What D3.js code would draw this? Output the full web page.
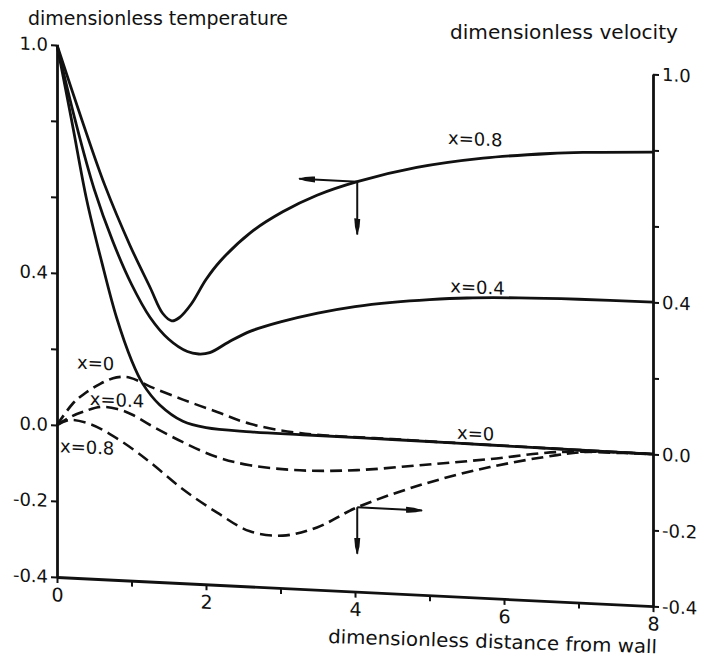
<!DOCTYPE html>
<html>
<head>
<meta charset="utf-8">
<script src="https://cdn.jsdelivr.net/npm/d3@7"></script>
<style>
body { margin: 0; background: #fff; }
text { font-family: "DejaVu Sans", sans-serif; fill: #111; }
</style>
</head>
<body>
<svg></svg>
<script>
// temperature profiles (solid), [distance, value]
const temp0 = [[0,1.0],[0.2,0.80],[0.4,0.595],[0.6,0.435],[0.8,0.29],[1.0,0.18],[1.15,0.12],[1.38,0.066],[1.69,0.026],[2.0,0.012],[2.6,0.007],[3.3,0.006],[4.5,0.005],[5.8,0.003],[7.1,0.001],[8,0]];
const temp04 = [[0,1.0],[0.25,0.80],[0.5,0.625],[0.75,0.49],[1.0,0.38],[1.25,0.295],[1.5,0.24],[1.75,0.21],[1.9,0.205],[2.05,0.21],[2.3,0.24],[2.6,0.272],[3.0,0.30],[3.5,0.328],[4.0,0.35],[4.5,0.366],[5.0,0.378],[5.5,0.387],[6.2,0.394],[7.0,0.398],[8,0.40]];
const temp08 = [[0,1.0],[0.336,0.805],[0.64,0.638],[0.98,0.482],[1.25,0.374],[1.42,0.307],[1.54,0.289],[1.64,0.298],[1.8,0.335],[2.0,0.402],[2.19,0.452],[2.59,0.53],[3.03,0.59],[3.49,0.638],[4.03,0.679],[4.83,0.724],[5.72,0.757],[6.62,0.778],[7.06,0.785],[8,0.795]];

// velocity profiles (dashed)
const vel0 = [[0,0],[0.21,0.058],[0.35,0.083],[0.58,0.114],[0.8,0.133],[0.98,0.134],[1.25,0.113],[1.69,0.083],[2.15,0.055],[2.59,0.028],[3.26,0.01],[4.5,0.006],[6,0.003],[8,0]];
const vel04 = [[0,0],[0.2,0.025],[0.35,0.038],[0.58,0.053],[0.81,0.05],[1.02,0.036],[1.25,0.012],[1.69,-0.029],[2.15,-0.064],[2.59,-0.081],[3.26,-0.088],[4.03,-0.08],[4.91,-0.058],[5.81,-0.034],[6.71,-0.007],[7.6,-0.001],[8,0]];
const vel08 = [[0,0],[0.17,0.015],[0.44,0.007],[0.71,-0.017],[1.02,-0.054],[1.25,-0.086],[1.69,-0.153],[2.15,-0.21],[2.59,-0.255],[3.03,-0.262],[3.49,-0.236],[4.03,-0.178],[4.91,-0.109],[5.81,-0.055],[6.71,-0.015],[7.15,-0.002],[8,0]];

const distTicks = [0,1,2,3,4,5,6,7,8];
const distLabels = [0,2,4,6,8];
const valueTicks = [-0.4,-0.2,0,0.2,0.4,0.6,0.8,1.0];
const valueLabels = [1.0,0.4,0,-0.2,-0.4];

// curve labels [distance, value, text]
const curveLabels = [[5.25,0.79,"x=0.8"],[5.28,0.40,"x=0.4"],[5.37,0.015,"x=0"],
                     [0.27,0.151,"x=0"],[0.44,0.057,"x=0.4"],[0.04,-0.071,"x=0.8"]];
// arrows [fromX, fromY, toX, toY]
const arrows = [[4.03,0.679,3.25,0.679],[4.03,0.679,4.03,0.54],
                [4.03,-0.178,4.9,-0.178],[4.03,-0.178,4.03,-0.30]];

let width = 702;
let height = 660;
let svg = d3.select("svg")
            .attr("width", width)
            .attr("height", height);

svg.append("defs").append("marker")
    .attr("id", "head")
    .attr("viewBox", "0 -3.5 17 7")
    .attr("refX", 16)
    .attr("refY", 0)
    .attr("markerWidth", 17)
    .attr("markerHeight", 7)
    .attr("markerUnits", "userSpaceOnUse")
    .attr("orient", "auto")
    .append("path")
    .attr("d", "M0,-3Q9,-3 17,0Q9,3 0,3Z")
    .attr("fill", "#111");

let x = d3.scaleLinear().domain([0, 8]).range([57, 653]);
let y = d3.scaleLinear().domain([-0.4, 1.0]).range([577, 45]);

// scanned figure is slightly sheared
let plot = svg.append("g")
    .attr("transform", "translate(57,0) skewY(2.8) translate(-57,0)");

let fmt = d => valueLabels.includes(d) ? (d < 0 ? "-" : "") + Math.abs(d).toFixed(1) : "";

function styleAxis(g) {
    g.attr("font-size", 18).attr("font-family", null);
    g.select(".domain").attr("stroke", "#111").attr("stroke-width", 2.8);
    g.selectAll(".tick line").attr("stroke", "#111").attr("stroke-width", 2);
    g.selectAll(".tick text").attr("fill", "#111");
}

plot.append("g")
    .attr("transform", `translate(${x(0)},0)`)
    .call(d3.axisLeft(y).tickValues(valueTicks).tickFormat(fmt)
            .tickSize(6).tickSizeOuter(0).tickPadding(3))
    .call(styleAxis);

plot.append("g")
    .attr("transform", `translate(${x(8)},0)`)
    .call(d3.axisRight(y).tickValues(valueTicks).tickFormat(fmt)
            .tickSize(6).tickSizeOuter(0).tickPadding(3))
    .call(styleAxis);

plot.append("g")
    .attr("transform", `translate(0,${y(-0.4)})`)
    .call(d3.axisBottom(x).tickValues(distTicks)
            .tickFormat(d => distLabels.includes(d) ? d : "")
            .tickSize(6).tickSizeOuter(0).tickPadding(5))
    .call(styleAxis)
    .attr("font-size", 19);

let line = d3.line()
    .x(d => x(d[0]))
    .y(d => y(d[1]))
    .curve(d3.curveCatmullRom.alpha(0.5));

plot.selectAll(".temp")
    .data([temp0, temp04, temp08])
    .enter()
    .append("path")
    .attr("class", "temp")
    .attr("d", line)
    .attr("fill", "none")
    .attr("stroke", "#111")
    .attr("stroke-width", 2.8);

plot.selectAll(".vel")
    .data([vel0, vel04, vel08])
    .enter()
    .append("path")
    .attr("class", "vel")
    .attr("d", line)
    .attr("fill", "none")
    .attr("stroke", "#111")
    .attr("stroke-width", 2.6)
    .attr("stroke-dasharray", "12,6");

plot.selectAll(".arrow")
    .data(arrows)
    .enter()
    .append("line")
    .attr("class", "arrow")
    .attr("x1", d => x(d[0]))
    .attr("y1", d => y(d[1]))
    .attr("x2", d => x(d[2]))
    .attr("y2", d => y(d[3]))
    .attr("stroke", "#111")
    .attr("stroke-width", 2)
    .attr("marker-end", "url(#head)");

plot.selectAll(".clabel")
    .data(curveLabels)
    .enter()
    .append("text")
    .attr("class", "clabel")
    .attr("x", d => x(d[0]))
    .attr("y", d => y(d[1]))
    .attr("font-size", 18)
    .text(d => d[2]);

svg.append("text")
    .attr("x", 28).attr("y", 25)
    .attr("font-size", 19)
    .attr("textLength", 260).attr("lengthAdjust", "spacingAndGlyphs")
    .text("dimensionless temperature");

svg.append("text")
    .attr("x", 450).attr("y", 39)
    .attr("font-size", 19)
    .attr("textLength", 228).attr("lengthAdjust", "spacingAndGlyphs")
    .text("dimensionless velocity");

svg.append("text")
    .attr("x", 328).attr("y", 643)
    .attr("transform", "rotate(1.8,328,643)")
    .attr("font-size", 19)
    .attr("textLength", 329).attr("lengthAdjust", "spacingAndGlyphs")
    .text("dimensionless distance from wall");
</script>
</body>
</html>
